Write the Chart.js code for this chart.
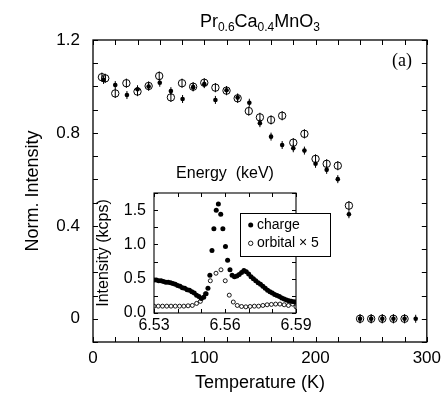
<!DOCTYPE html>
<html><head><meta charset="utf-8">
<script src="https://cdn.jsdelivr.net/npm/chart.js@4.4.1/dist/chart.umd.min.js"></script>
<style>
html,body{margin:0;padding:0;background:#fff;}
#wrap{position:relative;width:447px;height:399px;overflow:hidden;}
#main{position:absolute;left:0;top:0;}
#inset{position:absolute;left:90px;top:150px;}
</style></head><body>
<div id="wrap">
<canvas id="main" width="447" height="399"></canvas>
<canvas id="inset" width="260" height="200"></canvas>
</div>
<script>
// ---- main panel data ----
const tempCharge = [9.5, 20, 30.5, 40, 50, 60, 70, 80.5, 90, 100, 110, 120, 130, 140.5, 150, 160, 170, 180, 190, 200, 210, 220, 230, 240, 250, 260, 270, 280, 290];
const normCharge = [1.028, 1.006, 0.963, 0.988, 1.0, 1.016, 0.98, 0.946, 0.997, 1.01, 0.942, 0.984, 0.952, 0.93, 0.842, 0.784, 0.748, 0.734, 0.724, 0.667, 0.641, 0.601, 0.45, 0, 0, 0, 0, 0, 0];
const tempOrbital = [8, 11, 20, 30, 40, 50, 59.5, 70, 80, 90, 100, 110, 120, 130, 140, 150, 160, 170, 180, 190, 200, 210, 220, 230, 240, 250, 260, 270, 280];
const normOrbital = [1.04, 1.035, 0.97, 1.014, 0.978, 1.002, 1.045, 0.953, 1.014, 0.999, 1.016, 0.995, 0.982, 0.949, 0.894, 0.867, 0.856, 0.874, 0.758, 0.796, 0.688, 0.667, 0.659, 0.487, 0, 0, 0, 0, 0];
const mainXTickLabels = ['0', '100', '200', '300'];
const mainYTickLabels = ['0', '0.4', '0.8', '1.2'];

// ---- inset data ----
const energyCharge = [6.530, 6.531, 6.532, 6.533, 6.534, 6.535, 6.536, 6.537, 6.538, 6.539, 6.540, 6.541, 6.542, 6.543, 6.544, 6.545, 6.546, 6.547, 6.548, 6.549, 6.550, 6.551, 6.552,
  6.5528, 6.5536, 6.5545, 6.5553, 6.5563, 6.5572, 6.5582, 6.5591, 6.5602, 6.5611, 6.5621,
  6.563, 6.564, 6.565, 6.566, 6.567, 6.568, 6.569, 6.570, 6.571, 6.572, 6.573, 6.574, 6.575, 6.576, 6.577, 6.578, 6.579, 6.580, 6.581, 6.582, 6.583, 6.584, 6.585, 6.586, 6.587, 6.588, 6.589, 6.590];
const intensityCharge = [0.48, 0.48, 0.47, 0.47, 0.46, 0.45, 0.45, 0.44, 0.43, 0.42, 0.40, 0.39, 0.37, 0.36, 0.34, 0.33, 0.31, 0.29, 0.26, 0.24, 0.21, 0.23, 0.28,
  0.36, 0.55, 0.91, 1.23, 1.50, 1.59, 1.44, 1.23, 0.97, 0.77, 0.63,
  0.55, 0.53, 0.54, 0.56, 0.59, 0.62, 0.60, 0.57, 0.53, 0.50, 0.47, 0.44, 0.42, 0.39, 0.36, 0.33, 0.31, 0.29, 0.27, 0.255, 0.24, 0.22, 0.205, 0.19, 0.18, 0.17, 0.165, 0.16];
const energyOrbital = [6.5300, 6.5318, 6.5336, 6.5354, 6.5372, 6.5390, 6.5408, 6.5426, 6.5444, 6.5462, 6.5480, 6.5496, 6.5517, 6.5538, 6.5562, 6.5583, 6.5601, 6.5618, 6.5635, 6.5652, 6.5670, 6.5688, 6.5706, 6.5724, 6.5742, 6.5760, 6.5778, 6.5796, 6.5814, 6.5832, 6.5850, 6.5868, 6.5886, 6.5900];
const intensityOrbital = [0.10, 0.10, 0.10, 0.10, 0.10, 0.10, 0.10, 0.10, 0.105, 0.11, 0.14, 0.17, 0.28, 0.47, 0.58, 0.63, 0.47, 0.26, 0.16, 0.11, 0.095, 0.09, 0.095, 0.10, 0.10, 0.11, 0.12, 0.125, 0.13, 0.13, 0.12, 0.11, 0.13, 0.09];
const insetXTickLabels = ['6.53', '6.56', '6.59'];
const insetYTickLabels = ['0.0', '0.5', '1.0', '1.5'];

const toXY = (xs, ys) => xs.map((x, i) => ({x: x, y: ys[i]}));
const pickLabel = (labels) => (v) => {
  for (const l of labels) { if (Math.abs(parseFloat(l) - v) < 1e-6) return l; }
  return '';
};

Chart.defaults.font.family = '"Liberation Sans", Arial, Helvetica, sans-serif';
Chart.defaults.color = '#000';

const frameTicks = {
  id: 'frameTicks',
  afterDraw(chart, args, opts) {
    const {ctx, chartArea: {left, right, top, bottom}} = chart;
    const xs = chart.scales.x, ys = chart.scales.y;
    ctx.save();
    ctx.strokeStyle = '#000';
    ctx.lineWidth = 1;
    ctx.beginPath();
    xs.ticks.forEach(t => {
      const p = Math.round(xs.getPixelForValue(t.value)) + 0.5;
      if (p < left - 1 || p > right + 1) return;
      ctx.moveTo(p, bottom); ctx.lineTo(p, bottom - opts.len);
      ctx.moveTo(p, top); ctx.lineTo(p, top + opts.len);
    });
    ys.ticks.forEach(t => {
      const p = Math.round(ys.getPixelForValue(t.value)) + 0.5;
      if (p < top - 1 || p > bottom + 1) return;
      ctx.moveTo(left, p); ctx.lineTo(left + opts.len, p);
      ctx.moveTo(right, p); ctx.lineTo(right - opts.len, p);
    });
    ctx.stroke();
    ctx.lineWidth = opts.frame;
    ctx.strokeRect(left, top, right - left, bottom - top);
    ctx.restore();
  }
};

const errorBars = {
  id: 'errorBars',
  afterDatasetDraw(chart, args, opts) {
    const len = opts.len ? opts.len[args.index] : 0;
    if (!len) return;
    const ctx = chart.ctx;
    ctx.save();
    ctx.strokeStyle = '#000';
    ctx.lineWidth = 1;
    ctx.beginPath();
    args.meta.data.forEach(el => {
      ctx.moveTo(el.x, el.y - len); ctx.lineTo(el.x, el.y + len);
    });
    ctx.stroke();
    ctx.restore();
  }
};

const mainText = {
  id: 'mainText',
  afterDraw(chart) {
    const {ctx, chartArea: {left, right}} = chart;
    ctx.save();
    ctx.fillStyle = '#000';
    ctx.textBaseline = 'alphabetic';
    const parts = [['Pr', 0], ['0.6', 1], ['Ca', 0], ['0.4', 1], ['MnO', 0], ['3', 1]];
    const big = '18px "Liberation Sans", Arial, sans-serif';
    const small = '12px "Liberation Sans", Arial, sans-serif';
    let w = 0;
    parts.forEach(p => { ctx.font = p[1] ? small : big; w += ctx.measureText(p[0]).width; });
    let x = (left + right) / 2 - w / 2;
    parts.forEach(p => {
      ctx.font = p[1] ? small : big;
      ctx.fillText(p[0], x, p[1] ? 31 : 27);
      x += ctx.measureText(p[0]).width;
    });
    ctx.font = '18px "Liberation Serif", "Times New Roman", serif';
    ctx.textAlign = 'center';
    ctx.textBaseline = 'middle';
    ctx.fillText('(a)', 402, 61);
    ctx.restore();
  }
};

new Chart(document.getElementById('main'), {
  type: 'scatter',
  data: {
    datasets: [
      {label: 'charge', data: toXY(tempCharge, normCharge), pointRadius: 2.3, pointBackgroundColor: '#000', pointBorderColor: '#000', pointBorderWidth: 0, showLine: false},
      {label: 'orbital', data: toXY(tempOrbital, normOrbital), pointRadius: 3.7, pointBackgroundColor: 'rgba(0,0,0,0)', pointBorderColor: '#000', pointBorderWidth: 1, showLine: false}
    ]
  },
  options: {
    responsive: false, animation: false, devicePixelRatio: 1, events: [],
    layout: {padding: {left: 0, right: 17, top: 40, bottom: 0}},
    plugins: {
      legend: {display: false}, tooltip: {enabled: false},
      frameTicks: {len: 5, frame: 1.3},
      errorBars: {len: [4, 4.6]}
    },
    scales: {
      x: {
        type: 'linear', min: 0, max: 300,
        grid: {display: false, drawTicks: false}, border: {display: false},
        ticks: {stepSize: 20, autoSkip: false, maxRotation: 0, padding: 6, font: {size: 17}, callback: pickLabel(mainXTickLabels)},
        title: {display: true, text: 'Temperature (K)', font: {size: 18}, padding: {top: 0, bottom: 5}},
        afterFit(s) { s.height = 57; }
      },
      y: {
        type: 'linear', min: -0.1, max: 1.2,
        grid: {display: false, drawTicks: false}, border: {display: false},
        ticks: {stepSize: 0.1, autoSkip: false, padding: 13, font: {size: 17}, callback: pickLabel(mainYTickLabels)},
        title: {display: true, text: 'Norm. Intensity', font: {size: 18}, padding: {top: 22, bottom: 0}},
        afterFit(s) { s.width = 93; }
      }
    }
  },
  plugins: [frameTicks, errorBars, mainText]
});

const insetLegend = {
  id: 'insetLegend',
  afterDraw(chart) {
    const ctx = chart.ctx;
    ctx.save();
    ctx.fillStyle = '#fff';
    ctx.fillRect(150, 63, 91, 44);
    ctx.strokeStyle = '#000';
    ctx.lineWidth = 1;
    ctx.strokeRect(150.5, 63.5, 90, 43);
    ctx.fillStyle = '#000';
    ctx.beginPath(); ctx.arc(160.7, 75, 2.5, 0, Math.PI * 2); ctx.fill();
    ctx.beginPath(); ctx.arc(160.7, 93.3, 2.2, 0, Math.PI * 2); ctx.lineWidth = 0.9; ctx.stroke();
    ctx.font = '14px "Liberation Sans", Arial, sans-serif';
    ctx.textBaseline = 'middle';
    ctx.fillText(chart.data.datasets[0].label, 167, 75);
    ctx.fillText(chart.data.datasets[1].label, 167, 93.5);
    ctx.restore();
  }
};

new Chart(document.getElementById('inset'), {
  type: 'scatter',
  data: {
    datasets: [
      {label: 'charge', data: toXY(energyCharge, intensityCharge), pointRadius: 2.5, pointBackgroundColor: '#000', pointBorderColor: '#000', pointBorderWidth: 0, showLine: false},
      {label: 'orbital \u00d7 5', data: toXY(energyOrbital, intensityOrbital), pointRadius: 2, pointBackgroundColor: 'rgba(0,0,0,0)', pointBorderColor: '#000', pointBorderWidth: 0.9, showLine: false}
    ]
  },
  options: {
    responsive: false, animation: false, devicePixelRatio: 1, events: [],
    layout: {padding: {left: 0, right: 54, top: 0, bottom: 0}},
    plugins: {
      legend: {display: false}, tooltip: {enabled: false},
      frameTicks: {len: 4, frame: 1.1}
    },
    scales: {
      x: {
        type: 'linear', position: 'bottom', min: 6.53, max: 6.59,
        grid: {display: false, drawTicks: false}, border: {display: false},
        ticks: {stepSize: 0.01, autoSkip: false, maxRotation: 0, padding: 3, font: {size: 16}, callback: pickLabel(insetXTickLabels)},
        afterFit(s) { s.height = 37; }
      },
      x2: {
        type: 'linear', position: 'top', min: 6.53, max: 6.59,
        grid: {display: false, drawTicks: false}, border: {display: false},
        ticks: {display: false},
        title: {display: true, text: 'Energy  (keV)', font: {size: 16}, padding: {top: 14, bottom: 0}},
        afterFit(s) { s.height = 43; }
      },
      y: {
        type: 'linear', min: 0, max: 1.75,
        grid: {display: false, drawTicks: false}, border: {display: false},
        ticks: {stepSize: 0.25, autoSkip: false, padding: 8, font: {size: 16}, callback: pickLabel(insetYTickLabels)},
        title: {display: true, text: 'Intensity (kcps)', font: {size: 16}, padding: {top: 4, bottom: 0}},
        afterFit(s) { s.width = 64; }
      }
    }
  },
  plugins: [frameTicks, insetLegend]
});
</script>
</body></html>
